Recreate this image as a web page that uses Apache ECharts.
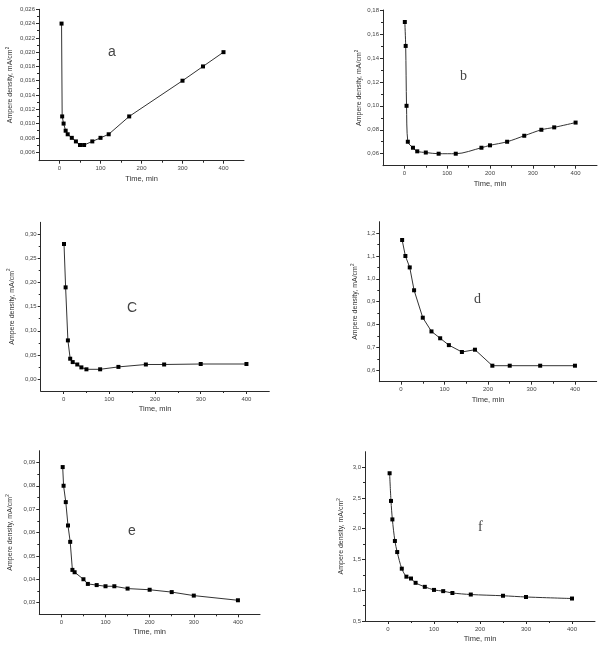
<!DOCTYPE html>
<html>
<head>
<meta charset="utf-8">
<script src="https://cdn.jsdelivr.net/npm/echarts@6/dist/echarts.min.js"></script>
<style>
  html, body { margin: 0; padding: 0; background: #fff; }
  #main { width: 603px; height: 656px; }
</style>
</head>
<body>
<div id="main"></div>
<script>
// panel a
var timeA = [5, 6.5, 10, 15, 20, 30, 40, 50, 60, 80, 100, 120, 170, 300, 350, 400];
var densA = [0.024, 0.011, 0.010, 0.009, 0.0085, 0.008, 0.0075, 0.007, 0.007, 0.0075, 0.008, 0.0085, 0.011, 0.016, 0.018, 0.020];
// panel b
var timeB = [1, 3, 5, 8, 20, 30, 50, 80, 120, 180, 200, 240, 280, 320, 350, 400];
var densB = [0.17, 0.15, 0.10, 0.070, 0.065, 0.062, 0.061, 0.060, 0.060, 0.065, 0.067, 0.070, 0.075, 0.080, 0.082, 0.086];
// panel c
var timeC = [1, 4.5, 9.5, 14.5, 20, 30, 39, 50, 80, 120, 180, 220, 300, 400];
var densC = [0.28, 0.19, 0.08, 0.042, 0.035, 0.030, 0.024, 0.020, 0.020, 0.025, 0.030, 0.030, 0.031, 0.031];
// panel d
var timeD = [2.5, 10, 20, 30, 50, 70, 90, 110, 140, 170, 210, 250, 320, 400];
var densD = [1.17, 1.10, 1.05, 0.95, 0.83, 0.77, 0.74, 0.71, 0.68, 0.69, 0.62, 0.62, 0.62, 0.62];
// panel e
var timeE = [3, 5, 10, 15, 20, 25, 30, 50, 60, 80, 100, 120, 150, 200, 250, 300, 400];
var densE = [0.088, 0.080, 0.073, 0.063, 0.056, 0.044, 0.043, 0.040, 0.038, 0.0375, 0.037, 0.037, 0.036, 0.0355, 0.0345, 0.033, 0.031];
// panel f
var timeF = [3.5, 6.5, 9.5, 15, 20, 30, 40, 50, 60, 80, 100, 120, 140, 180, 250, 300, 400];
var densF = [2.9, 2.45, 2.15, 1.8, 1.62, 1.35, 1.22, 1.19, 1.12, 1.055, 1.005, 0.985, 0.955, 0.93, 0.91, 0.89, 0.865];

// tick labels
var xTicks = [0, 100, 200, 300, 400];
var yTicksA = [0.006, 0.008, 0.010, 0.012, 0.014, 0.016, 0.018, 0.020, 0.022, 0.024, 0.026];
var yTicksB = [0.06, 0.08, 0.10, 0.12, 0.14, 0.16, 0.18];
var yTicksC = [0, 0.05, 0.10, 0.15, 0.20, 0.25, 0.30];
var yTicksD = [0.6, 0.7, 0.8, 0.9, 1.0, 1.1, 1.2];
var yTicksE = [0.03, 0.04, 0.05, 0.06, 0.07, 0.08, 0.09];
var yTicksF = [0.5, 1.0, 1.5, 2.0, 2.5, 3.0];

var panels = [
    {t: timeA, d: densA, yt: yTicksA, dec: 3, min: 0.0048, max: 0.026, box: [39, 9.3, 205, 151.4], smooth: false,
     letter: 'a', lx: 113, ly: 54, font: 'Liberation Sans'},
    {t: timeB, d: densB, yt: yTicksB, dec: 2, min: 0.05, max: 0.18, box: [383, 10, 214, 155.7], smooth: 0.3,
     letter: 'b', lx: 465, ly: 78, font: 'Liberation Serif'},
    {t: timeC, d: densC, yt: yTicksC, dec: 2, min: -0.025, max: 0.325, box: [40.7, 222.3, 228.6, 168.7], smooth: false,
     letter: 'C', lx: 132, ly: 310, font: 'Liberation Sans'},
    {t: timeD, d: densD, yt: yTicksD, dec: 1, min: 0.55, max: 1.25, box: [379.3, 221.7, 217.4, 160], smooth: false,
     letter: 'd', lx: 479, ly: 301, font: 'Liberation Serif'},
    {t: timeE, d: densE, yt: yTicksE, dec: 2, min: 0.025, max: 0.095, box: [39.3, 450.7, 220.7, 163.6], smooth: false,
     letter: 'e', lx: 133, ly: 533, font: 'Liberation Sans'},
    {t: timeF, d: densF, yt: yTicksF, dec: 1, min: 0.5, max: 3.25, box: [365, 451.7, 230, 169.3], smooth: 0.3,
     letter: 'f', lx: 483, ly: 529, font: 'Liberation Serif'}
];

function midpoints(arr) {
    var out = [];
    for (var i = 0; i < arr.length - 1; i++) out.push((arr[i] + arr[i + 1]) / 2);
    return out;
}

var axisColor = '#2a2a2a';
var labelStyle = { fontFamily: 'Liberation Sans', fontSize: 6, color: '#444' };

var grid = [], xAxis = [], yAxis = [], series = [], graphic = [];
panels.forEach(function (p, i) {
    grid.push({ left: p.box[0], top: p.box[1], width: p.box[2], height: p.box[3] });
    // main x axis
    xAxis.push({
        type: 'value', gridIndex: i, min: -50, max: 450, position: 'bottom',
        name: 'Time, min', nameLocation: 'middle', nameGap: 14,
        nameTextStyle: { fontFamily: 'Liberation Sans', fontSize: 7.5, color: '#333' },
        axisLine: { onZero: false, lineStyle: { color: axisColor, width: 1 } },
        axisTick: { customValues: xTicks, length: 3, lineStyle: { color: axisColor } },
        axisLabel: Object.assign({ customValues: xTicks, margin: 5 }, labelStyle),
        splitLine: { show: false }
    });
    // minor x ticks
    xAxis.push({
        type: 'value', gridIndex: i, min: -50, max: 450, position: 'bottom',
        axisLine: { show: false, onZero: false },
        axisTick: { show: true, customValues: midpoints(xTicks), length: 2, lineStyle: { color: axisColor } },
        axisLabel: { show: false },
        splitLine: { show: false }
    });
    var dec = p.dec;
    yAxis.push({
        type: 'value', gridIndex: i, min: p.min, max: p.max, position: 'left',
        name: 'Ampere density, mA/cm{s|2}', nameLocation: 'middle', nameRotate: 90,
        nameGap: i % 2 === 0 ? 24 : 19,
        nameTextStyle: { fontFamily: 'Liberation Sans', fontSize: 7, color: '#333',
            rich: { s: { fontFamily: 'Liberation Sans', fontSize: 4.5, color: '#333', padding: [0, 0, 5, 0] } } },
        axisLine: { show: true, onZero: false, lineStyle: { color: axisColor, width: 1 } },
        axisTick: { customValues: p.yt, length: 3, lineStyle: { color: axisColor } },
        axisLabel: Object.assign({ customValues: p.yt, margin: 4,
            formatter: function (v) { return v.toFixed(dec).replace('.', ','); } }, labelStyle),
        splitLine: { show: false }
    });
    yAxis.push({
        type: 'value', gridIndex: i, min: p.min, max: p.max, position: 'left',
        axisLine: { show: false, onZero: false },
        axisTick: { show: true, customValues: midpoints(p.yt), length: 2, lineStyle: { color: axisColor } },
        axisLabel: { show: false },
        splitLine: { show: false }
    });
    series.push({
        type: 'line', xAxisIndex: i * 2, yAxisIndex: i * 2,
        data: p.t.map(function (t, k) { return [t, p.d[k]]; }),
        smooth: p.smooth,
        symbol: 'rect', symbolSize: 4,
        itemStyle: { color: '#000' },
        lineStyle: { color: '#333', width: 1 },
        animation: false
    });
    graphic.push({
        type: 'text', left: p.lx - 5, top: p.ly - 9,
        style: { text: p.letter, font: '14px "' + p.font + '"', fill: '#444' }
    });
});

var chart = echarts.init(document.getElementById('main'), null, { renderer: 'canvas' });
chart.setOption({
    backgroundColor: '#fff',
    animation: false,
    grid: grid,
    xAxis: xAxis,
    yAxis: yAxis,
    series: series,
    graphic: graphic
});
</script>
</body>
</html>
